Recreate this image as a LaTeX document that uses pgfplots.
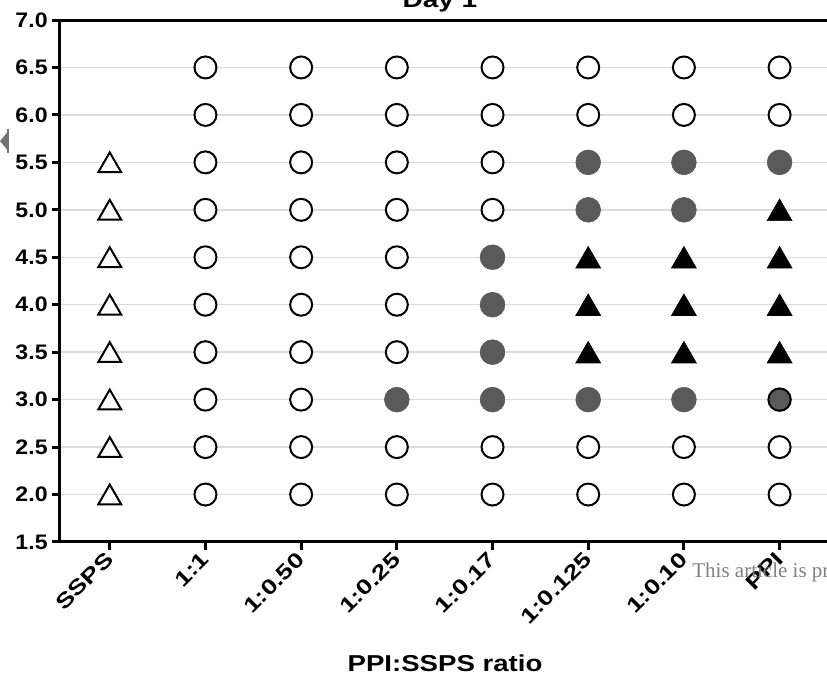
\documentclass[border=0pt]{standalone}
\usepackage{pgfplots}
\pgfplotsset{compat=1.18}
\usepackage{fontspec}
\setmainfont{Liberation Sans}
\newfontfamily\seriffont{Liberation Serif}
\definecolor{mgray}{HTML}{5A5A5A}
\definecolor{gridc}{HTML}{DCDCDC}
\newcommand\wl[1]{\scalebox{1.27}[1]{#1}}
\newcommand\wn[1]{\scalebox{1.1}[1]{#1}}
\begin{document}
\begin{tikzpicture}
\useasboundingbox (-30pt,-69.5pt) rectangle (383.5pt,271pt);
\clip (-30pt,-69.5pt) rectangle (383.5pt,271pt);
\begin{axis}[
  at={(0pt,0pt)}, anchor=south west,
  scale only axis, width=388.5pt, height=261pt,
  xmin=-0.52, xmax=7.6, ymin=1.5, ymax=7.0,
  axis x line*=box, axis y line*=left,
  axis line style={line width=1.5pt},
  xtick={0,...,7},
  xticklabels={\wl{SSPS},\wl{1:1},\wl{1:0.50},\wl{1:0.25},\wl{1:0.17},\wl{1:0.125},\wl{1:0.10},\wl{PPI}},
  ytick={1.5,2,...,7},
  /pgf/number format/assume math mode=true,
  yticklabel={\wn{\pgfmathprintnumber[fixed,fixed zerofill,precision=1]{\tick}}},
  tick align=outside, major tick length=4pt,
  tick style={line width=1.5pt, black},
  xtick pos=left, ytick pos=left,
  ymajorgrids, grid style={gridc, line width=0.75pt},
  ticklabel style={font=\bfseries\fontsize{10.5}{12}\selectfont},
  yticklabel style={inner sep=2pt},
  xticklabel style={rotate=45, anchor=east, inner sep=2pt, yshift=-2pt},
  clip=false,
]
% open circles
\addplot[only marks, mark=*, mark size=5.5pt, draw=black, fill=white, line width=1pt] coordinates {
(1,2)(1,2.5)(1,3)(1,3.5)(1,4)(1,4.5)(1,5)(1,5.5)(1,6)(1,6.5)
(2,2)(2,2.5)(2,3)(2,3.5)(2,4)(2,4.5)(2,5)(2,5.5)(2,6)(2,6.5)
(3,2)(3,2.5)(3,3.5)(3,4)(3,4.5)(3,5)(3,5.5)(3,6)(3,6.5)
(4,2)(4,2.5)(4,5)(4,5.5)(4,6)(4,6.5)
(5,2)(5,2.5)(5,6)(5,6.5)
(6,2)(6,2.5)(6,6)(6,6.5)
(7,2)(7,2.5)(7,6)(7,6.5)
};
% gray filled circles
\addplot[only marks, mark=*, mark size=6.2pt, draw=mgray, fill=mgray, line width=0.3pt] coordinates {
(3,3)(4,3)(4,3.5)(4,4)(4,4.5)(5,3)(5,5)(5,5.5)(6,3)(6,5)(6,5.5)(7,5.5)
};
% gray circle with black outline
\addplot[only marks, mark=*, mark size=5.6pt, draw=black, fill=mgray, line width=1pt] coordinates {(7,3)};
% open triangles
\addplot[only marks, mark=triangle*, mark size=6.6pt, draw=black, fill=white, line width=1pt,
  mark options={yshift=-1.6pt}] coordinates {
(0,2)(0,2.5)(0,3)(0,3.5)(0,4)(0,4.5)(0,5)(0,5.5)
};
% black triangles
\addplot[only marks, mark=triangle*, mark size=7.2pt, draw=black, fill=black, line width=0.3pt,
  mark options={yshift=-1.8pt}] coordinates {
(5,3.5)(5,4)(5,4.5)(6,3.5)(6,4)(6,4.5)(7,3.5)(7,4)(7,4.5)(7,5)
};
\end{axis}
\node[anchor=base, font=\bfseries\fontsize{11}{13}\selectfont] at (190pt,267pt) {\wl{Day 1}};
\node[anchor=base, font=\bfseries\fontsize{11.5}{13}\selectfont] at (192.5pt,-65pt) {\scalebox{1.2}[1]{PPI:SSPS ratio}};
\node[anchor=base west, inner sep=0pt, font=\seriffont\fontsize{10.5}{12}\selectfont, text=gray] at (316pt,-18pt) {This article is protected by copyright. All rights reserved.};
\fill[black!55] (-30pt,200.5pt) -- (-26.3pt,205pt) -- (-26.3pt,196pt) -- cycle;
\fill[black!55] (-26.3pt,194.5pt) rectangle (-25.5pt,206.5pt);
\end{tikzpicture}
\end{document}
